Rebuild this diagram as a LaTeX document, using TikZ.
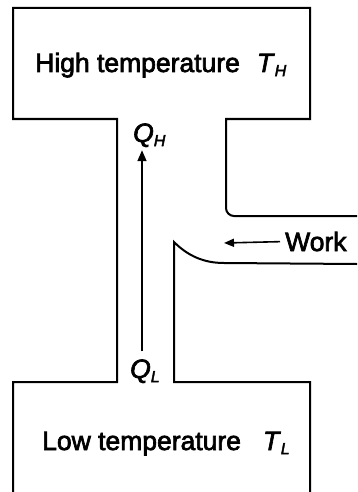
\documentclass[tikz,border=0pt]{standalone}
\usepackage{fontspec}
\setmainfont{Liberation Sans}[FakeBold=2.5]
\usepackage{tikz}
\usetikzlibrary{arrows.meta}
\newcommand{\tsub}[1]{\raisebox{-0.3ex}{\fontsize{16}{16}\selectfont\itshape #1}}

\begin{document}
\begin{tikzpicture}[
        x=1pt, y=-1pt,
        wall/.style={line width=2pt, line join=miter},
        txt/.style={font=\fontsize{26.5}{30}\selectfont, inner sep=0pt, anchor=base west},
        arrow/.style={-{Triangle[length=11pt, width=9pt]}, line width=1.6pt}
    ]
        \useasboundingbox (0,0) rectangle (357,492);
        % reservoirs and channel
        \draw[wall] (13,492) -- (13,382) -- (117,382) -- (117,119) -- (13,119) -- (13,8)
            -- (310,8) -- (310,119) -- (226,119) [rounded corners=8pt] -- (226,216) -- (357,216);
        \draw[wall] (357,264) -- (224,263) .. controls (204,263) and (188,256) .. (174,242)
            -- (174,382) -- (310,382) -- (310,492);
        \node[txt] (hot) at (35,72) {High temperature\hspace{17pt}\textit{T}\tsub{H}};
        \node[txt] (cold) at (42,450) {Low temperature\hspace{22pt}\textit{T}\tsub{L}};
        \node[txt] (qh) at (133,142) {\textit{Q}\tsub{H}};
        \node[txt] (ql) at (130,378) {\textit{Q}\tsub{L}};
        \node[txt] (work) at (285,251) {Work};
        \coordinate (qaxis) at (142,0);
        \coordinate (worktip) at (224,243);
        \draw[arrow, shorten <=8pt, shorten >=3pt] (ql.north -| qaxis) -- (qh.south -| qaxis);
        \draw[arrow, -{Triangle[length=10pt, width=8pt]}, shorten <=5pt] (work.west) -- (worktip);
    \end{tikzpicture}
\end{document}
